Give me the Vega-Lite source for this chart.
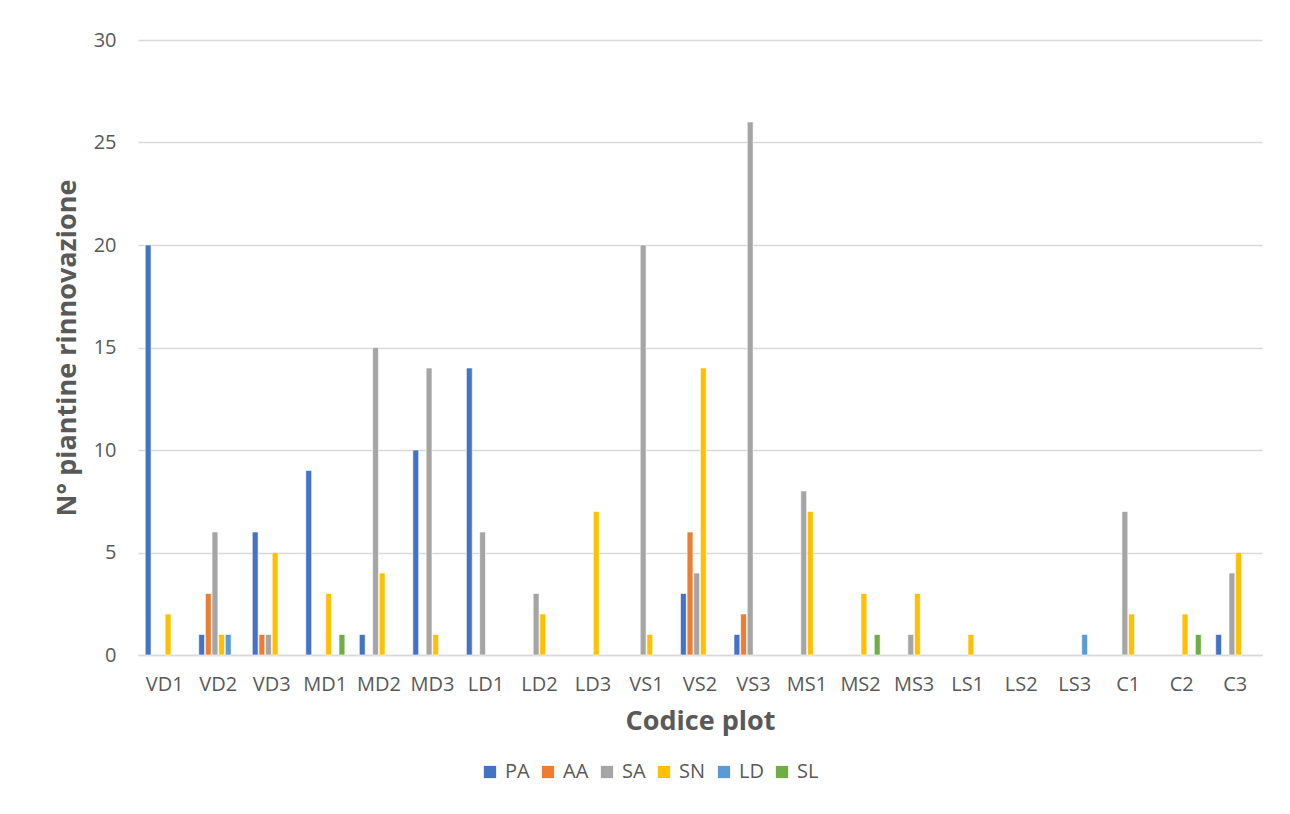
{
  "$schema": "https://vega.github.io/schema/vega-lite/v6.json",
  "width": 1124,
  "height": 615,
  "autosize": "none",
  "padding": {"left": 138, "top": 40, "right": 28, "bottom": 159},
  "background": "white",
  "config": {
    "font": "Open Sans",
    "view": {"stroke": null},
    "axis": {"labelColor": "#595959", "titleColor": "#595959", "labelFontSize": 20, "titleFontSize": 27, "titleFontWeight": "bold", "labelFont": "Open Sans", "titleFont": "Open Sans"}
  },
  "data": {
    "values": [
      {"plot": "VD1", "specie": "PA", "n": 20},
      {"plot": "VD1", "specie": "SN", "n": 2},
      {"plot": "VD2", "specie": "PA", "n": 1},
      {"plot": "VD2", "specie": "AA", "n": 3},
      {"plot": "VD2", "specie": "SA", "n": 6},
      {"plot": "VD2", "specie": "SN", "n": 1},
      {"plot": "VD2", "specie": "LD", "n": 1},
      {"plot": "VD3", "specie": "PA", "n": 6},
      {"plot": "VD3", "specie": "AA", "n": 1},
      {"plot": "VD3", "specie": "SA", "n": 1},
      {"plot": "VD3", "specie": "SN", "n": 5},
      {"plot": "MD1", "specie": "PA", "n": 9},
      {"plot": "MD1", "specie": "SN", "n": 3},
      {"plot": "MD1", "specie": "SL", "n": 1},
      {"plot": "MD2", "specie": "PA", "n": 1},
      {"plot": "MD2", "specie": "SA", "n": 15},
      {"plot": "MD2", "specie": "SN", "n": 4},
      {"plot": "MD3", "specie": "PA", "n": 10},
      {"plot": "MD3", "specie": "SA", "n": 14},
      {"plot": "MD3", "specie": "SN", "n": 1},
      {"plot": "LD1", "specie": "PA", "n": 14},
      {"plot": "LD1", "specie": "SA", "n": 6},
      {"plot": "LD2", "specie": "SA", "n": 3},
      {"plot": "LD2", "specie": "SN", "n": 2},
      {"plot": "LD3", "specie": "SN", "n": 7},
      {"plot": "VS1", "specie": "SA", "n": 20},
      {"plot": "VS1", "specie": "SN", "n": 1},
      {"plot": "VS2", "specie": "PA", "n": 3},
      {"plot": "VS2", "specie": "AA", "n": 6},
      {"plot": "VS2", "specie": "SA", "n": 4},
      {"plot": "VS2", "specie": "SN", "n": 14},
      {"plot": "VS3", "specie": "PA", "n": 1},
      {"plot": "VS3", "specie": "AA", "n": 2},
      {"plot": "VS3", "specie": "SA", "n": 26},
      {"plot": "MS1", "specie": "SA", "n": 8},
      {"plot": "MS1", "specie": "SN", "n": 7},
      {"plot": "MS2", "specie": "SN", "n": 3},
      {"plot": "MS2", "specie": "SL", "n": 1},
      {"plot": "MS3", "specie": "SA", "n": 1},
      {"plot": "MS3", "specie": "SN", "n": 3},
      {"plot": "LS1", "specie": "SN", "n": 1},
      {"plot": "LS3", "specie": "LD", "n": 1},
      {"plot": "C1", "specie": "SA", "n": 7},
      {"plot": "C1", "specie": "SN", "n": 2},
      {"plot": "C2", "specie": "SN", "n": 2},
      {"plot": "C2", "specie": "SL", "n": 1},
      {"plot": "C3", "specie": "PA", "n": 1},
      {"plot": "C3", "specie": "SA", "n": 4},
      {"plot": "C3", "specie": "SN", "n": 5}
    ]
  },
  "mark": {"type": "bar", "stroke": "white", "strokeWidth": 0.6},
  "encoding": {
    "x": {
      "field": "plot", "type": "nominal",
      "scale": {"domain": ["VD1","VD2","VD3","MD1","MD2","MD3","LD1","LD2","LD3","VS1","VS2","VS3","MS1","MS2","MS3","LS1","LS2","LS3","C1","C2","C3"], "paddingInner": 0.27, "paddingOuter": 0.135},
      "axis": {"title": "Codice plot", "labelAngle": 0, "ticks": false, "domainColor": "#d9d9d9", "domainWidth": 1.5, "labelPadding": 19, "titlePadding": 14}
    },
    "xOffset": {
      "field": "specie", "type": "nominal",
      "scale": {"domain": ["PA","AA","SA","SN","LD","SL"], "paddingInner": 0.12}
    },
    "y": {
      "field": "n", "type": "quantitative",
      "scale": {"domain": [0, 30]},
      "axis": {"title": "N° piantine rinnovazione", "values": [0,5,10,15,20,25,30], "domain": false, "ticks": false, "gridColor": "#d9d9d9", "gridWidth": 1.5, "labelPadding": 22, "titlePadding": 12}
    },
    "color": {
      "field": "specie", "type": "nominal",
      "scale": {"domain": ["PA","AA","SA","SN","LD","SL"], "range": ["#4472C4","#ED7D31","#A5A5A5","#FFC000","#5B9BD5","#70AD47"]},
      "legend": {"title": null, "orient": "none", "legendX": 342, "legendY": 722, "direction": "horizontal", "symbolType": "square", "symbolSize": 150, "symbolStrokeWidth": 0, "labelFontSize": 20, "labelColor": "#595959", "labelFont": "Open Sans", "columnPadding": 8, "labelOffset": 5}
    }
  }
}
